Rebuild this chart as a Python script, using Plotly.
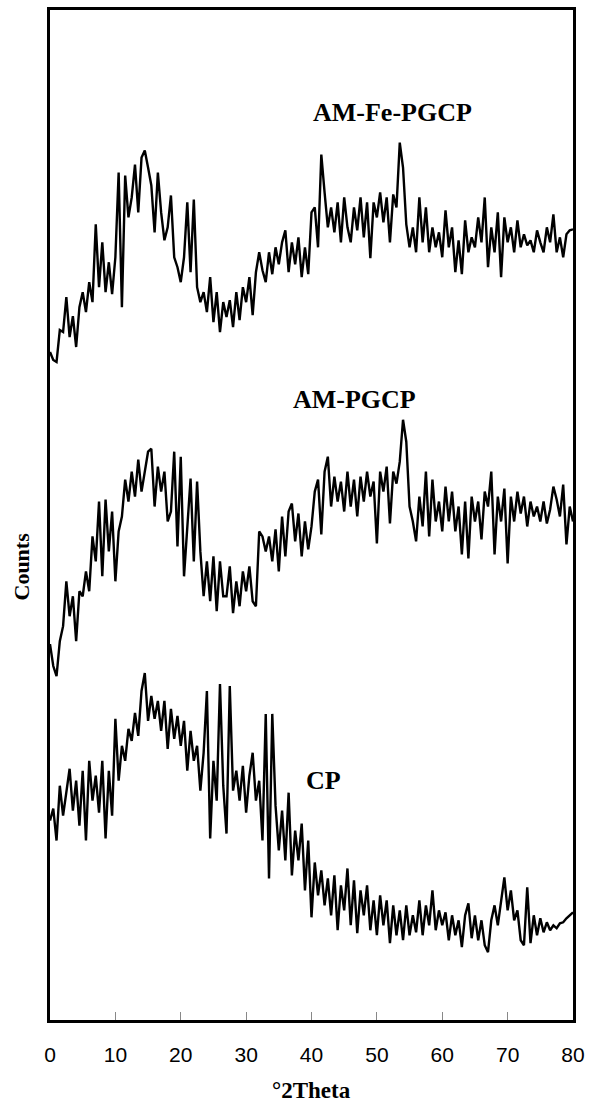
import plotly.graph_objects as go

two_theta = [i * 0.5 for i in range(161)]

am_fe_pgcp = [
    670, 662, 660, 692, 690, 725, 685, 706, 675, 715,
    730, 710, 740, 720, 798, 735, 780, 730, 760, 728,
    765, 850, 715, 847, 805, 825, 858, 810, 865, 872,
    855, 837, 790, 850, 810, 782, 795, 827, 765, 755,
    740, 765, 820, 750, 823, 735, 720, 730, 710, 745,
    700, 730, 690, 720, 705, 722, 695, 730, 702, 735,
    720, 745, 707, 750, 770, 752, 740, 770, 748, 775,
    758, 780, 792, 750, 780, 758, 785, 745, 775, 748,
    810, 815, 775, 868, 830, 795, 815, 790, 820, 780,
    825, 795, 780, 815, 792, 825, 785, 820, 764, 820,
    805, 830, 800, 825, 780, 828, 815, 880, 855, 798,
    775, 795, 770, 825, 780, 815, 770, 795, 775, 790,
    765, 812, 775, 795, 750, 782, 748, 802, 770, 785,
    775, 805, 780, 825, 755, 795, 770, 810, 745, 805,
    780, 795, 770, 802, 775, 788, 777, 782, 770, 792,
    780, 770, 795, 780, 808, 770, 785, 765, 788, 792,
    793,
]

am_pgcp = [
    377, 355, 345, 380, 395, 440, 405, 425, 380, 430,
    425, 450, 430, 485, 460, 520, 445, 522, 470, 510,
    440, 490, 505, 542, 520, 550, 525, 562, 530, 550,
    570, 573, 515, 555, 530, 550, 500, 510, 570, 475,
    565, 445, 500, 543, 460, 540, 470, 425, 460, 420,
    465, 410, 460, 425, 425, 455, 408, 440, 415, 450,
    430, 455, 420, 415, 490, 485, 470, 485, 460, 492,
    450, 505, 465, 510, 518, 480, 508, 465, 500, 472,
    495, 530, 542, 487, 550, 565, 515, 545, 520, 540,
    510, 550, 515, 542, 505, 545, 520, 550, 525, 540,
    478, 550, 530, 555, 498, 550, 538, 560, 602, 580,
    515, 500, 480, 525, 495, 550, 485, 542, 500, 520,
    490, 535, 500, 530, 490, 515, 467, 520, 463, 525,
    500, 520, 482, 530, 515, 550, 467, 525, 500, 533,
    458, 525, 500, 530, 508, 525, 495, 520, 505, 515,
    500, 520, 498, 512, 535, 522, 505, 537, 477, 515,
    500,
]

cp = [
    200, 212, 180, 235, 205, 230, 252, 210, 240, 195,
    250, 180, 260, 220, 245, 208, 260, 182, 250, 205,
    302, 240, 275, 260, 292, 280, 308, 285, 330, 348,
    300, 325, 302, 320, 290, 320, 272, 312, 282, 305,
    275, 300, 250, 290, 260, 275, 230, 268, 330, 182,
    260, 220, 337, 235, 187, 335, 230, 250, 220, 255,
    208, 245, 268, 220, 240, 180, 307, 142, 307, 215,
    170, 210, 160, 228, 145, 190, 160, 197, 130, 180,
    103, 158, 125, 150, 115, 142, 105, 145, 90, 135,
    110, 152, 95, 140, 87, 130, 105, 135, 90, 120,
    85, 125, 95, 120, 77, 115, 85, 110, 80, 115,
    85, 105, 88, 120, 85, 115, 95, 130, 90, 110,
    95, 108, 80, 105, 85, 100, 73, 105, 117, 82,
    105, 80, 100, 75, 68, 100, 115, 95, 120, 143,
    110, 130, 100, 110, 80, 75, 133, 77, 105, 85,
    102, 88, 98, 90, 95, 92, 97, 98, 102, 105,
    108,
]

series = [("AM-Fe-PGCP", am_fe_pgcp), ("AM-PGCP", am_pgcp), ("CP", cp)]
label_pos = {"AM-Fe-PGCP": (52.4, 910), "AM-PGCP": (46.6, 622), "CP": (41.8, 240)}
x_ticks = [0, 10, 20, 30, 40, 50, 60, 70, 80]

fig = go.Figure()
for name, vals in series:
    fig.add_trace(go.Scatter(x=two_theta, y=vals, mode="lines", name=name,
                             line=dict(color="black", width=2.4), showlegend=False))

for name, (lx, ly) in label_pos.items():
    fig.add_annotation(x=lx, y=ly, text="<b>%s</b>" % name, showarrow=False,
                       font=dict(family="Liberation Serif", size=26, color="black"))

fig.add_annotation(xref="paper", yref="paper", x=0.5, y=0, yanchor="middle",
                   yshift=-70, text="<b>°2Theta</b>", showarrow=False,
                   font=dict(family="Liberation Serif", size=23, color="black"))
fig.add_annotation(xref="paper", yref="paper", x=0, y=0.449, xanchor="center",
                   xshift=-28, textangle=-90, text="<b>Counts</b>", showarrow=False,
                   font=dict(family="Liberation Serif", size=22, color="black"))

fig.update_layout(
    width=592, height=1109,
    margin=dict(l=50, r=16, t=7, b=89),
    plot_bgcolor="white", paper_bgcolor="white",
    xaxis=dict(range=[0, 80], tickvals=x_ticks, ticktext=[str(v) for v in x_ticks],
               ticks="inside", ticklen=8, tickwidth=1, tickcolor="#888888",
               showline=True, linewidth=3, linecolor="black", mirror=True,
               showgrid=False, zeroline=False, ticklabelstandoff=14,
               tickfont=dict(family="Liberation Sans", size=21, color="black")),
    yaxis=dict(range=[0, 1013], showticklabels=False, ticks="",
               showline=True, linewidth=3, linecolor="black", mirror=True,
               showgrid=False, zeroline=False),
)

fig.write_html("out.html", config={"displayModeBar": False},
               post_script="document.body.style.margin='0px';")
